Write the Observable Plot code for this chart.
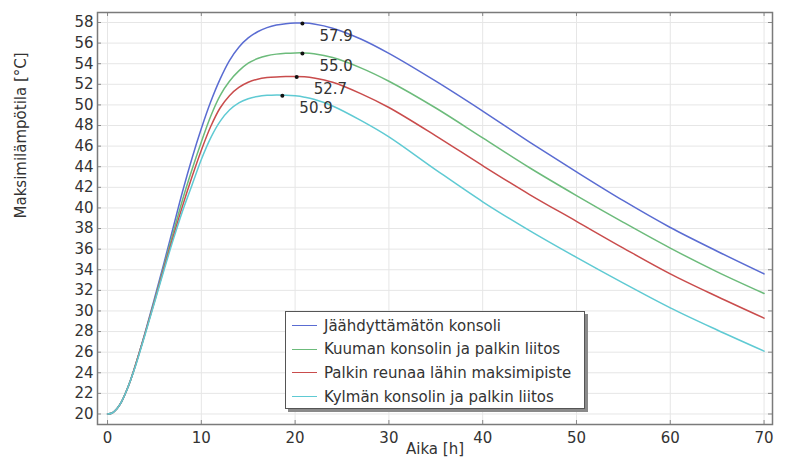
<!DOCTYPE html>
<html>
<head>
<meta charset="utf-8">
<script src="https://cdn.jsdelivr.net/npm/d3@7"></script>
<script src="https://cdn.jsdelivr.net/npm/@observablehq/plot@0.6"></script>
<style>
  body { margin: 0; background: white; }
  #wrap { position: relative; width: 785px; height: 464px; font-family: 'DejaVu Sans', sans-serif; }
  #legend {
    position: absolute; left: 285px; top: 311px; width: 300px; height: 98px;
    box-sizing: border-box; background: white; border: 1px solid #555;
    box-shadow: 3px 3px 0 #8a8a8a; padding-top: 2px;
  }
  .row { display: flex; align-items: center; height: 23.6px; font-size: 15px; color: #333; white-space: nowrap; }
  .sw { width: 25px; height: 0; border-top: 1.5px solid; margin-left: 6px; margin-right: 7px; }
</style>
</head>
<body>
<div id="wrap"></div>
<script>
const times = [0, 0.5, 1, 1.5, 2, 2.5, 3, 4, 5, 6, 7, 8, 9, 10, 11, 12, 13, 14, 15, 16, 17, 18, 19, 20, 21, 22, 24, 27, 30, 35, 40, 45, 50, 55, 60, 65, 70];

const blueVals  = [20.0, 20.1, 20.5, 21.2, 22.2, 23.4, 24.8, 27.9, 31.2, 34.6, 38.1, 41.6, 44.8, 47.7, 50.3, 52.5, 54.3, 55.6, 56.5, 57.1, 57.5, 57.75, 57.88, 57.94, 57.94, 57.85, 57.45, 56.4, 55.0, 52.3, 49.4, 46.4, 43.5, 40.7, 38.1, 35.8, 33.6];
const greenVals = [20.0, 20.1, 20.5, 21.2, 22.2, 23.4, 24.8, 27.8, 31.0, 34.3, 37.6, 40.8, 43.7, 46.4, 48.9, 50.9, 52.3, 53.3, 54.05, 54.5, 54.78, 54.93, 55.01, 55.05, 55.05, 54.97, 54.6, 53.6, 52.3, 49.7, 46.8, 43.9, 41.2, 38.6, 36.1, 33.8, 31.7];
const redVals   = [20.0, 20.1, 20.5, 21.2, 22.2, 23.4, 24.8, 27.8, 30.9, 34.1, 37.2, 40.2, 43.0, 45.6, 47.9, 49.7, 50.9, 51.7, 52.2, 52.5, 52.65, 52.72, 52.75, 52.76, 52.73, 52.62, 52.2, 51.1, 49.75, 47.0, 44.1, 41.3, 38.7, 36.1, 33.6, 31.4, 29.3];
const cyanVals  = [20.0, 20.1, 20.5, 21.2, 22.2, 23.4, 24.7, 27.7, 30.8, 33.9, 36.9, 39.7, 42.2, 44.7, 46.8, 48.4, 49.5, 50.2, 50.6, 50.82, 50.93, 50.97, 50.95, 50.88, 50.75, 50.55, 49.9, 48.5, 46.9, 43.7, 40.6, 37.8, 35.2, 32.7, 30.3, 28.15, 26.1];

const seriesNames = ["Jäähdyttämätön konsoli", "Kuuman konsolin ja palkin liitos", "Palkin reunaa lähin maksimipiste", "Kylmän konsolin ja palkin liitos"];
const seriesColors = ["#5a6cd2", "#6cbb7b", "#c94c4c", "#5fcad3"];

const peakTimes = [20.78, 20.78, 20.17, 18.64];
const peakValues = [57.9, 55.0, 52.7, 50.9];

const xTicks = [0, 10, 20, 30, 40, 50, 60, 70];
const yTicks = [20, 22, 24, 26, 28, 30, 32, 34, 36, 38, 40, 42, 44, 46, 48, 50, 52, 54, 56, 58];

const allVals = [blueVals, greenVals, redVals, cyanVals];
const rows = seriesNames.flatMap((name, i) => times.map((t, j) => ({series: name, t, v: allVals[i][j]})));
const peaks = peakTimes.map((t, i) => ({t, v: peakValues[i]}));

const chart = Plot.plot({
  width: 785, height: 464,
  marginLeft: 97, marginRight: 13, marginTop: 12, marginBottom: 40,
  style: {fontFamily: "'DejaVu Sans', sans-serif", fontSize: "15px", color: "#333", background: "white"},
  x: {domain: [-1.07, 70.9], label: null},
  y: {domain: [18.98, 58.97], label: null},
  color: {domain: seriesNames, range: seriesColors},
  marks: [
    Plot.gridX(xTicks, {stroke: "#e6e6e6", strokeOpacity: 1}),
    Plot.gridY(yTicks, {stroke: "#e6e6e6", strokeOpacity: 1}),
    Plot.line(rows, {x: "t", y: "v", stroke: "series", strokeWidth: 1.5, curve: "catmull-rom"}),
    Plot.dot(peaks, {x: "t", y: "v", r: 2, fill: "#111"}),
    Plot.text(peaks, {x: "t", y: "v", text: d => d.v.toFixed(1), dx: 17, dy: 12.5, textAnchor: "start", fill: "#333"}),
    Plot.tickY(yTicks, {y: d => d, insetRight: 671, stroke: "#888"}),
    Plot.tickY(yTicks, {y: d => d, insetLeft: 671, stroke: "#888"}),
    Plot.tickX(xTicks, {x: d => d, insetTop: 408, stroke: "#888"}),
    Plot.tickX(xTicks, {x: d => d, insetBottom: 408, stroke: "#888"}),
    Plot.axisX(xTicks, {tickSize: 0, tickPadding: 8, label: null}),
    Plot.axisY(yTicks, {tickSize: 0, tickPadding: 4, label: null}),
    Plot.frame({stroke: "#7a7a7a", strokeWidth: 1.5}),
    Plot.text(["Aika [h]"], {text: d => d, frameAnchor: "bottom", dy: 29, fill: "#333"}),
    Plot.text(["Maksimilämpötila [°C]"], {text: d => d, frameAnchor: "left", dx: -76, rotate: -90, fill: "#333"})
  ]
});

const wrap = document.getElementById("wrap");
wrap.appendChild(chart);

const legend = document.createElement("div");
legend.id = "legend";
seriesNames.forEach((name, i) => {
  const row = document.createElement("div");
  row.className = "row";
  const sw = document.createElement("span");
  sw.className = "sw";
  sw.style.borderTopColor = seriesColors[i];
  const label = document.createElement("span");
  label.textContent = name;
  row.appendChild(sw);
  row.appendChild(label);
  legend.appendChild(row);
});
wrap.appendChild(legend);
</script>
</body>
</html>
